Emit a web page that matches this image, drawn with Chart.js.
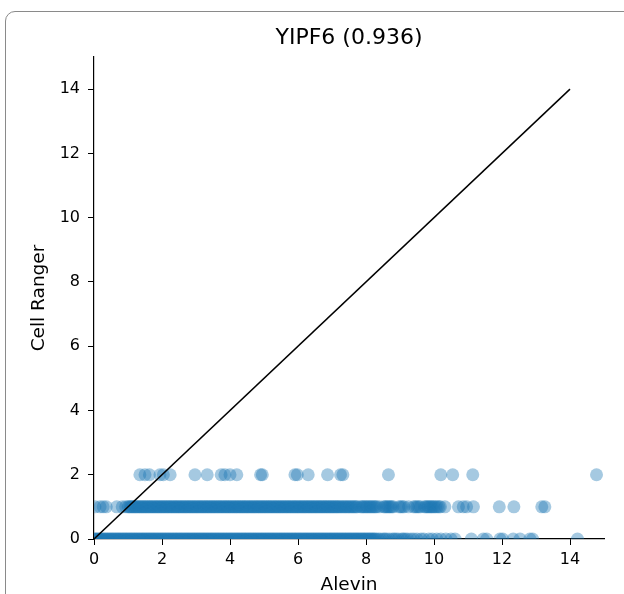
<!DOCTYPE html>
<html>
<head>
<meta charset="utf-8">
<script src="https://cdn.jsdelivr.net/npm/chart.js@4/dist/chart.umd.min.js"></script>
<style>
  html, body { margin: 0; padding: 0; background: #fff; overflow: hidden; }
  #wrap { position: relative; width: 624px; height: 594px; }
  #frame {
    position: absolute; left: 5px; top: 11px; width: 700px; height: 700px;
    border: 1.5px solid #8a8a8a; border-radius: 10px; box-sizing: border-box;
  }
  #plot { position: absolute; left: 0; top: 0; }
</style>
</head>
<body>
<div id="wrap">
  <div id="frame"></div>
  <canvas id="plot" width="624" height="594"></canvas>
</div>
<script>
// Alevin counts (x) for each Cell Ranger count (y)
const row2X = [1.35, 1.5, 1.63, 1.94, 2.04, 2.24, 2.97, 3.33, 3.74, 3.85, 4.0, 4.2, 4.9, 4.95,
  5.91, 5.98, 6.3, 6.87, 7.25, 7.32, 8.66, 10.2, 10.55, 11.14, 14.78];

const row1X = [0.03, 0.18, 0.27, 0.36, 0.67, 0.83, 0.93,
  1.0, 1.03, 1.07, 1.1, 1.14, 1.17, 1.21, 1.24, 1.28, 1.31, 1.35, 1.38, 1.42, 1.45, 1.49, 1.52,
  1.56, 1.59, 1.63, 1.66, 1.7, 1.73, 1.77, 1.8, 1.84, 1.87, 1.91, 1.94, 1.98, 2.01, 2.05, 2.08,
  2.12, 2.15, 2.19, 2.22, 2.26, 2.29, 2.33, 2.36, 2.4, 2.43, 2.47, 2.5, 2.54, 2.57, 2.61, 2.64,
  2.68, 2.71, 2.75, 2.78, 2.82, 2.85, 2.89, 2.92, 2.96, 2.99, 3.03, 3.06, 3.1, 3.13, 3.17, 3.2,
  3.24, 3.27, 3.31, 3.34, 3.38, 3.41, 3.45, 3.48, 3.52, 3.55, 3.59, 3.62, 3.66, 3.69, 3.73, 3.76,
  3.8, 3.83, 3.87, 3.9, 3.94, 3.97, 4.01, 4.04, 4.08, 4.11, 4.15, 4.18, 4.22, 4.25, 4.29, 4.32,
  4.36, 4.39, 4.43, 4.46, 4.5, 4.53, 4.57, 4.6, 4.64, 4.67, 4.71, 4.74, 4.78, 4.81, 4.85, 4.88,
  4.92, 4.95, 4.99, 5.02, 5.06, 5.09, 5.13, 5.16, 5.2, 5.23, 5.27, 5.3, 5.34, 5.37, 5.41, 5.44,
  5.48, 5.51, 5.55, 5.58, 5.62, 5.65, 5.69, 5.72, 5.76, 5.79, 5.83, 5.86, 5.9, 5.93, 5.97, 6.0,
  6.04, 6.07, 6.11, 6.14, 6.18, 6.21, 6.25, 6.28, 6.32, 6.35, 6.39, 6.42, 6.46, 6.49, 6.53, 6.56,
  6.6, 6.63, 6.67, 6.7, 6.74, 6.77, 6.81, 6.84, 6.88, 6.91, 6.95, 6.98, 7.02, 7.05, 7.09, 7.12,
  7.16, 7.19, 7.23, 7.27, 7.31, 7.35, 7.39, 7.43, 7.47, 7.51, 7.55, 7.59, 7.63, 7.67, 7.71, 7.75,
  7.84, 7.88, 7.92, 7.96, 8.0, 8.04, 8.08, 8.12, 8.16, 8.2, 8.24, 8.28, 8.32, 8.4,
  8.52, 8.56, 8.6, 8.64, 8.68, 8.72, 8.76, 8.8, 8.97, 9.02, 9.07, 9.12, 9.25,
  9.4, 9.45, 9.5, 9.55, 9.6, 9.72, 9.76, 9.8, 9.84, 9.88, 9.92, 9.96, 10.0, 10.05, 10.1, 10.15, 10.19,
  10.32, 10.72, 10.86, 10.96, 11.16, 11.92, 12.35, 13.17, 13.26];

const row0X = [0.0, 0.03, 0.07, 0.1, 0.14, 0.17, 0.21, 0.24, 0.28, 0.31, 0.35, 0.38, 0.42, 0.45,
  0.49, 0.52, 0.56, 0.59, 0.63, 0.66, 0.7, 0.73, 0.77, 0.8, 0.84, 0.87, 0.91, 0.94, 0.98,
  1.01, 1.05, 1.08, 1.12, 1.15, 1.19, 1.22, 1.26, 1.29, 1.33, 1.36, 1.4, 1.43, 1.47, 1.5, 1.54,
  1.57, 1.61, 1.64, 1.68, 1.71, 1.75, 1.78, 1.82, 1.85, 1.89, 1.92, 1.96, 1.99, 2.03, 2.06, 2.1,
  2.13, 2.17, 2.2, 2.24, 2.27, 2.31, 2.34, 2.38, 2.41, 2.45, 2.48, 2.52, 2.55, 2.59, 2.62, 2.66,
  2.69, 2.73, 2.76, 2.8, 2.83, 2.87, 2.9, 2.94, 2.97, 3.01, 3.04, 3.08, 3.11, 3.15, 3.18, 3.22,
  3.25, 3.29, 3.32, 3.36, 3.39, 3.43, 3.46, 3.5, 3.53, 3.57, 3.6, 3.64, 3.67, 3.71, 3.74, 3.78,
  3.81, 3.85, 3.88, 3.92, 3.95, 3.99, 4.02, 4.06, 4.09, 4.13, 4.16, 4.2, 4.23, 4.27, 4.3, 4.34,
  4.37, 4.41, 4.44, 4.48, 4.51, 4.55, 4.58, 4.62, 4.65, 4.69, 4.72, 4.76, 4.79, 4.83, 4.86, 4.9,
  4.93, 4.97, 5.0, 5.04, 5.07, 5.11, 5.14, 5.18, 5.21, 5.25, 5.28, 5.32, 5.35, 5.39, 5.42, 5.46,
  5.49, 5.53, 5.56, 5.6, 5.63, 5.67, 5.7, 5.74, 5.77, 5.81, 5.84, 5.88, 5.91, 5.95, 5.98, 6.02,
  6.05, 6.09, 6.12, 6.16, 6.19, 6.23, 6.26, 6.3, 6.33, 6.37, 6.4, 6.44, 6.47, 6.51, 6.54, 6.58,
  6.61, 6.65, 6.68, 6.72, 6.75, 6.79, 6.82, 6.86, 6.89, 6.93, 6.96, 7.0, 7.03, 7.07, 7.1, 7.14,
  7.17, 7.21, 7.24, 7.28, 7.31, 7.35, 7.38, 7.42, 7.45, 7.49, 7.52, 7.56, 7.59, 7.63, 7.66, 7.7,
  7.73, 7.77, 7.8, 7.84, 7.87, 7.91, 7.94, 7.98, 8.01, 8.05, 8.08, 8.12, 8.15, 8.19, 8.22, 8.26,
  8.3, 8.36, 8.42, 8.5, 8.55, 8.6, 8.68, 8.77, 8.83, 8.88, 8.95, 9.05, 9.1, 9.15, 9.22,
  9.32, 9.4, 9.5, 9.62, 9.7, 9.85, 9.95, 10.08, 10.2, 10.35, 10.5, 10.62,
  11.1, 11.45, 11.55, 11.94, 12.02, 12.33, 12.53, 12.82, 12.9, 14.22];

const cellRangerLevels = [0, 1, 2];
const diagonalEnds = [0, 14];
const tickValues = [0, 2, 4, 6, 8, 10, 12, 14];
const axisMax = 15;

const rows = [row0X, row1X, row2X];
const scatterPoints = [];
rows.forEach((xs, i) => {
  xs.forEach((x) => scatterPoints.push({ x: x, y: cellRangerLevels[i] }));
});

const fontFamily = "'DejaVu Sans', sans-serif";

function fixedTicks(scale) {
  scale.ticks = tickValues.map((v) => ({ value: v }));
}

new Chart(document.getElementById('plot'), {
  type: 'scatter',
  data: {
    datasets: [
      {
        data: diagonalEnds.map((v) => ({ x: v, y: v })),
        showLine: true,
        borderColor: '#000',
        borderWidth: 1.5,
        pointRadius: 0,
        fill: false
      },
      {
        data: scatterPoints,
        backgroundColor: 'rgba(31,119,180,0.4)',
        borderWidth: 0,
        pointRadius: 6.5,
        pointHoverRadius: 6.5,
        clip: 0
      }
    ]
  },
  options: {
    responsive: false,
    animation: false,
    layout: { padding: { left: 0, right: 20, top: 0, bottom: 0 } },
    plugins: {
      legend: { display: false },
      tooltip: { enabled: false },
      title: {
        display: true,
        text: 'YIPF6 (0.936)',
        color: '#000',
        fullSize: false,
        font: { family: fontFamily, size: 22, weight: 'normal', lineHeight: 1.2 },
        padding: { top: 25, bottom: 5.6 }
      }
    },
    scales: {
      x: {
        type: 'linear',
        min: 0,
        max: axisMax,
        afterBuildTicks: fixedTicks,
        afterFit: (scale) => { scale.height = 55; },
        grid: { drawOnChartArea: false, drawTicks: true, tickLength: 6, color: '#000', lineWidth: 1 },
        border: { display: true, color: '#000', width: 1.2 },
        ticks: { color: '#000', padding: 5, font: { family: fontFamily, size: 16 } },
        title: {
          display: true,
          text: 'Alevin',
          color: '#000',
          font: { family: fontFamily, size: 18.5, lineHeight: 1 },
          padding: { top: 0, bottom: 0 }
        }
      },
      y: {
        type: 'linear',
        min: 0,
        max: axisMax,
        afterBuildTicks: fixedTicks,
        afterFit: (scale) => { scale.width = 94; },
        grid: { drawOnChartArea: false, drawTicks: true, tickLength: 6, color: '#000', lineWidth: 1 },
        border: { display: true, color: '#000', width: 1.2 },
        ticks: { color: '#000', padding: 8, font: { family: fontFamily, size: 16 } },
        title: {
          display: true,
          text: 'Cell Ranger',
          color: '#000',
          font: { family: fontFamily, size: 18.5, lineHeight: 1 },
          padding: { top: 29.5, bottom: 0 }
        }
      }
    }
  }
});
</script>
</body>
</html>
